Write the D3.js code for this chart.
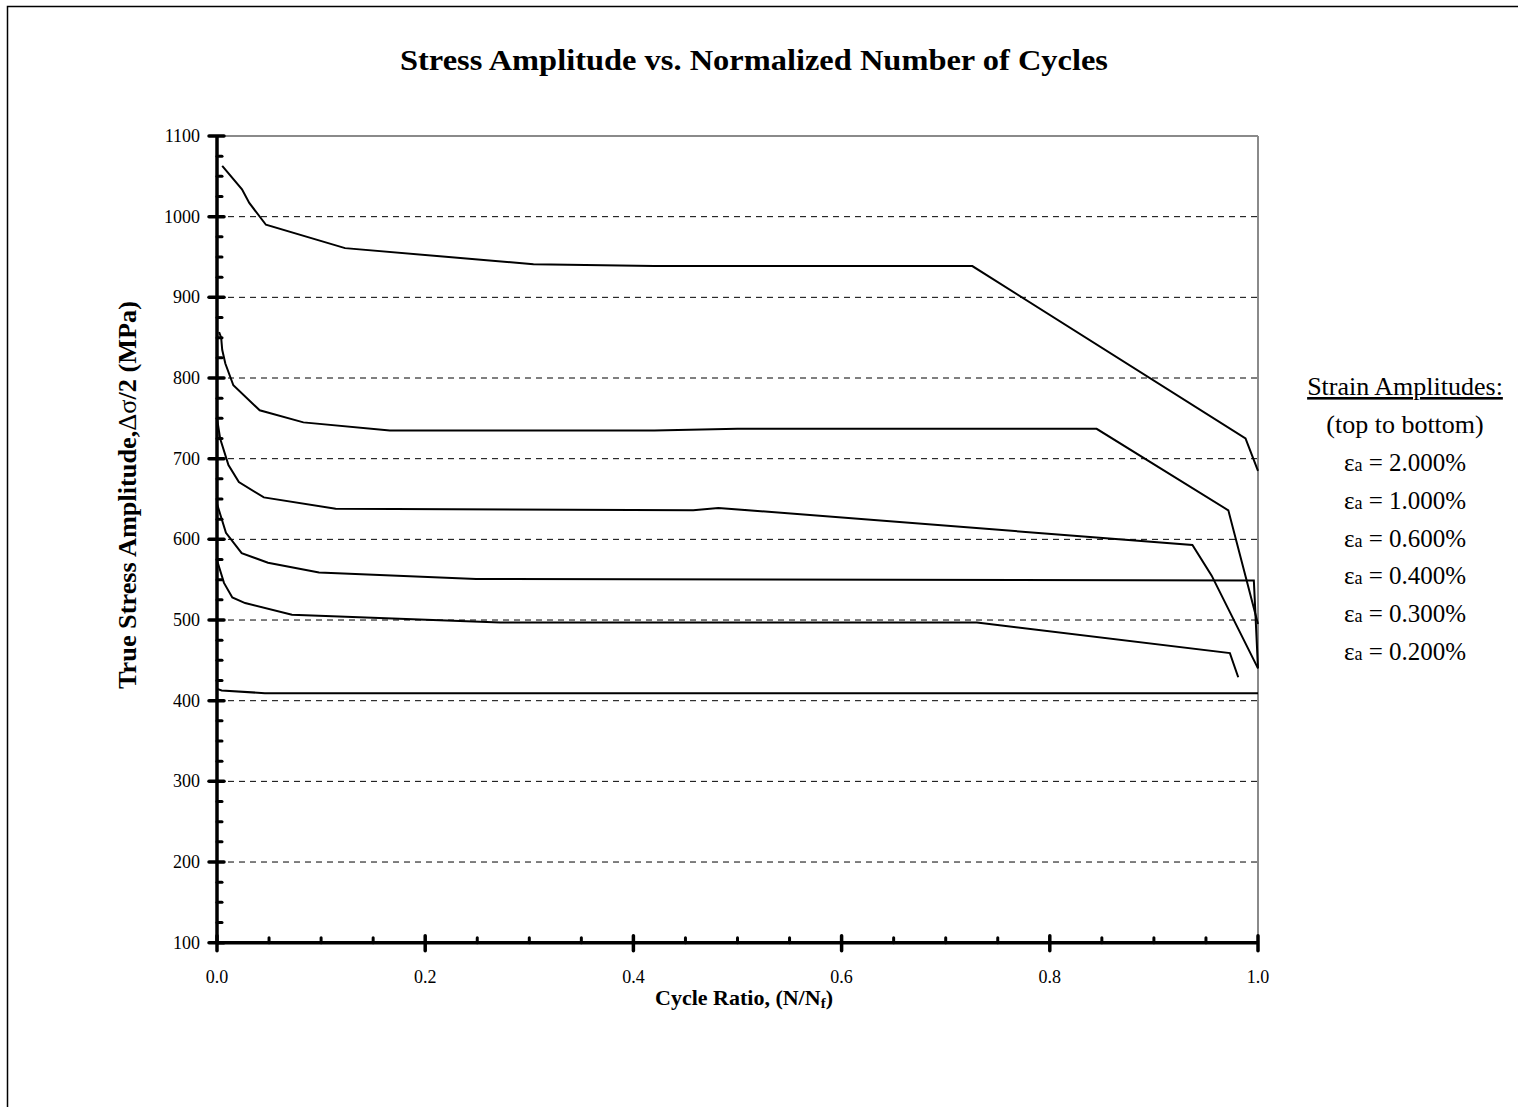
<!DOCTYPE html>
<html><head><meta charset="utf-8">
<script src="https://cdn.jsdelivr.net/npm/d3@7"></script>
<style>
html,body{margin:0;padding:0;background:#fff;}
svg{display:block;}
text{font-family:"Liberation Serif","Times New Roman",serif;fill:#000;}
</style></head>
<body>
<script>
// ---- data ----
const title = "Stress Amplitude vs. Normalized Number of Cycles";
const xTickValues = [0, 0.2, 0.4, 0.6, 0.8, 1.0];
const yTickValues = [100, 200, 300, 400, 500, 600, 700, 800, 900, 1000, 1100];
const legendLabels = ["2.000%", "1.000%", "0.600%", "0.400%", "0.300%", "0.200%"];

const ratio2000 = [0.005, 0.024, 0.031, 0.047, 0.123, 0.304, 0.42, 0.7256, 0.988, 1.0];
const stress2000 = [1063, 1034, 1017, 990, 961, 941, 939, 938.7, 725, 685];

const ratio1000 = [0.002, 0.004, 0.005, 0.008, 0.0157, 0.041, 0.083, 0.166, 0.42, 0.5, 0.845, 0.9715, 1.0];
const stress1000 = [857, 850, 835, 818, 791, 760, 745, 735, 735, 737, 737, 636, 495];

const ratio0600 = [0.0, 0.003, 0.011, 0.021, 0.045, 0.114, 0.4575, 0.4816, 0.937, 0.9555, 1.0];
const stress0600 = [750, 725, 692, 671, 652, 638, 636, 639, 593, 555, 440];

const ratio0400 = [0.0, 0.0086, 0.0237, 0.049, 0.098, 0.249, 0.996, 1.0];
const stress0400 = [644, 608, 583, 571, 559, 551, 549, 440];

const ratio0300 = [0.0, 0.0067, 0.0147, 0.027, 0.072, 0.272, 0.73, 0.973, 0.981];
const stress0300 = [574, 546, 528, 521, 506.5, 497, 497, 459, 429];

const ratio0200 = [0.0, 0.0045, 0.046, 1.0];
const stress0200 = [414.7, 412.7, 409.3, 409.3];

const seriesList = [
  [ratio2000, stress2000], [ratio1000, stress1000], [ratio0600, stress0600],
  [ratio0400, stress0400], [ratio0300, stress0300], [ratio0200, stress0200]
];

// ---- layout ----
const W = 1518, H = 1107;
const L = 217, R = 1258, T = 136, B = 942.7;

const svg = d3.select("body").append("svg").attr("width", W).attr("height", H);
svg.append("rect").attr("x", 0).attr("y", 0).attr("width", W).attr("height", H).attr("fill", "#fff");
// outer frame
svg.append("rect").attr("x", 7.5).attr("y", 6.5).attr("width", W + 20).attr("height", H + 20)
  .attr("fill", "none").attr("stroke", "#000").attr("stroke-width", 1.5);

const x = d3.scaleLinear().domain([0, 1]).range([L, R]);
const y = d3.scaleLinear().domain([100, 1100]).range([B, T]);

// gridlines
svg.append("g").selectAll("line").data(yTickValues.filter(v => v > 100 && v < 1100)).join("line")
  .attr("x1", L).attr("x2", R).attr("y1", d => y(d)).attr("y2", d => y(d))
  .attr("stroke", "#000").attr("stroke-width", 1).attr("stroke-dasharray", "6,5");
// top and right borders (gray)
svg.append("line").attr("x1", L).attr("x2", R).attr("y1", y(1100)).attr("y2", y(1100)).attr("stroke", "#8a8a8a").attr("stroke-width", 2);
svg.append("line").attr("x1", x(1)).attr("x2", x(1)).attr("y1", T).attr("y2", B).attr("stroke", "#8a8a8a").attr("stroke-width", 2);

// series lines
const line = d3.line().x(d => x(d[0])).y(d => y(d[1]));
svg.append("g").selectAll("path").data(seriesList.map(([xs, ys]) => xs.map((v, i) => [v, ys[i]]))).join("path")
  .attr("d", line).attr("fill", "none").attr("stroke", "#000").attr("stroke-width", 2).attr("stroke-linejoin", "miter");

// y axis
const yMinor = d3.range(100, 1100.1, 25).filter(v => v % 100 !== 0);
const yAx = svg.append("g");
yAx.append("line").attr("x1", L).attr("x2", L).attr("y1", T).attr("y2", B).attr("stroke", "#000").attr("stroke-width", 3.5);
yAx.selectAll(".ymaj").data(yTickValues).join("line").attr("class", "ymaj")
  .attr("x1", L - 8).attr("x2", L + 7).attr("y1", d => y(d)).attr("y2", d => y(d))
  .attr("stroke", "#000").attr("stroke-width", 3.5).attr("stroke-linecap", "round");
yAx.selectAll(".ymin").data(yMinor).join("line").attr("class", "ymin")
  .attr("x1", L).attr("x2", L + 5).attr("y1", d => y(d)).attr("y2", d => y(d))
  .attr("stroke", "#000").attr("stroke-width", 3).attr("stroke-linecap", "round");
yAx.selectAll("text").data(yTickValues).join("text")
  .attr("x", 200).attr("y", d => y(d) + 6).attr("text-anchor", "end").attr("font-size", 18)
  .text(d => d);

// x axis
const xMinor = d3.range(0, 1.0001, 0.05).filter((v, i) => i % 4 !== 0);
const xAx = svg.append("g");
xAx.append("line").attr("x1", L).attr("x2", R).attr("y1", B).attr("y2", B).attr("stroke", "#000").attr("stroke-width", 3.5);
xAx.selectAll(".xmaj").data(xTickValues).join("line").attr("class", "xmaj")
  .attr("x1", d => x(d)).attr("x2", d => x(d)).attr("y1", B - 7).attr("y2", B + 8)
  .attr("stroke", "#000").attr("stroke-width", 3.5).attr("stroke-linecap", "round");
xAx.selectAll(".xmin").data(xMinor).join("line").attr("class", "xmin")
  .attr("x1", d => x(d)).attr("x2", d => x(d)).attr("y1", B - 5).attr("y2", B)
  .attr("stroke", "#000").attr("stroke-width", 3).attr("stroke-linecap", "round");
xAx.selectAll("text").data(xTickValues).join("text")
  .attr("x", d => x(d)).attr("y", 983).attr("text-anchor", "middle").attr("font-size", 18)
  .text(d => d3.format(".1f")(d));

// title
svg.append("text").attr("x", 754).attr("y", 70).attr("text-anchor", "middle")
  .attr("font-size", 30).attr("font-weight", "bold")
  .attr("textLength", 708).attr("lengthAdjust", "spacingAndGlyphs").text(title);

// x axis title
const xt = svg.append("text").attr("x", 744).attr("y", 1005).attr("text-anchor", "middle")
  .attr("font-size", 22).attr("font-weight", "bold");
xt.append("tspan").text("Cycle Ratio, (N/N");
xt.append("tspan").attr("font-size", 15).attr("dy", 3).text("f");
xt.append("tspan").attr("dy", -3).text(")");

// y axis title
const yt = svg.append("text").attr("transform", "translate(136,495) rotate(-90)")
  .attr("text-anchor", "middle").attr("font-size", 25).attr("font-weight", "bold")
  .attr("textLength", 388).attr("lengthAdjust", "spacingAndGlyphs");
yt.append("tspan").text("True Stress Amplitude,");
yt.append("tspan").attr("font-weight", "normal").text("\u0394\u03C3");
yt.append("tspan").text("/2  (MPa)");

// legend text
const lx = 1405;
svg.append("text").attr("x", lx).attr("y", 395).attr("text-anchor", "middle").attr("font-size", 26)
  .attr("text-decoration", "underline").text("Strain Amplitudes:");
svg.append("text").attr("x", lx).attr("y", 433).attr("text-anchor", "middle").attr("font-size", 26)
  .text("(top to bottom)");
const lg = svg.append("g").selectAll("text").data(legendLabels).join("text")
  .attr("x", lx).attr("y", (d, i) => 471 + i * 37.8).attr("text-anchor", "middle").attr("font-size", 25);
lg.append("tspan").text("\u03B5");
lg.append("tspan").attr("font-size", 18).text("a");
lg.append("tspan").text(d => " = " + d);
</script>
</body></html>
